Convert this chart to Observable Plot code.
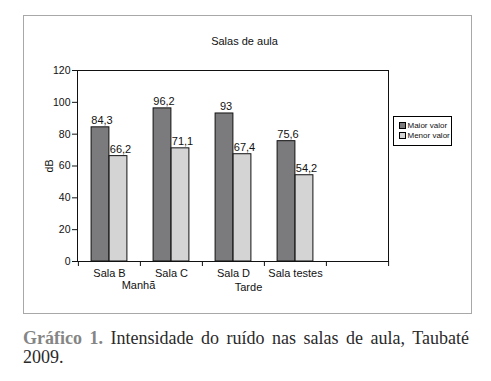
<!DOCTYPE html>
<html>
<head>
<meta charset="utf-8">
<script src="https://cdn.jsdelivr.net/npm/d3@7"></script>
<script src="https://cdn.jsdelivr.net/npm/@observablehq/plot@0.6"></script>
<style>
  html, body { margin: 0; padding: 0; background: #fff; }
  body { width: 491px; height: 381px; position: relative; overflow: hidden; font-family: "Liberation Sans", Arial, sans-serif; }
  #frame { position: absolute; left: 23px; top: 15px; width: 449px; height: 299px; box-sizing: border-box; border: 1px solid #a8a8a8; }
  #title { position: absolute; left: -3px; top: 18px; width: 100%; text-align: center; font-size: 11px; line-height: 14px; color: #111; }
  #chart { position: absolute; left: 0; top: 0; }
  #legend { position: absolute; left: 369px; top: 100px; width: 59px; height: 30px; box-sizing: border-box; border: 1px solid #000; font-size: 8px; line-height: 10px; padding: 3.5px 0 0 5px; color: #111; }
  #legend .it { display: flex; align-items: center; white-space: nowrap; }
  #legend .sw { width: 5px; height: 5px; border: 1px solid #000; margin-right: 1.5px; }
  .cap { position: absolute; left: 23px; width: 446px; font-family: "Liberation Serif", "Times New Roman", serif; font-size: 18px; line-height: 19px; color: #2a2a2a; white-space: nowrap; }
  #cap1 { top: 329px; text-align: justify; text-align-last: justify; }
  #cap2 { top: 348px; }
  #cap1 b { color: #858585; }
</style>
</head>
<body>
<div id="frame">
  <div id="title">Salas de aula</div>
  <div id="chart"></div>
  <div id="legend"></div>
</div>
<div class="cap" id="cap1"><b>Gráfico 1.</b> Intensidade do ruído nas salas de aula, Taubaté</div>
<div class="cap" id="cap2">2009.</div>
<script>
const salas = ["Sala B", "Sala C", "Sala D", "Sala testes"];
const maiorValor = [84.3, 96.2, 93, 75.6];
const menorValor = [66.2, 71.1, 67.4, 54.2];
const series = ["Maior valor", "Menor valor"];
const periodos = [{sala: "Sala B", label: "Manhã"}, {sala: "Sala D", label: "Tarde"}];
const yTicks = [0, 20, 40, 60, 80, 100, 120];
const emptySlot = " ";

const colors = {"Maior valor": "#7b7b7d", "Menor valor": "#d4d4d4"};
const fmt = v => String(v).replace(".", ",");

const maior = salas.map((s, i) => ({sala: s, value: maiorValor[i]}));
const menor = salas.map((s, i) => ({sala: s, value: menorValor[i]}));

const W = 447, H = 297, mL = 53, mR = 83, mT = 54, mB = 52;
const bw = (W - mL - mR) / 5;
const barW = 18;
const off = (bw - 2 * barW) / 2;

const chart = Plot.plot({
  width: W, height: H,
  marginLeft: mL, marginRight: mR, marginTop: mT, marginBottom: mB,
  style: {fontFamily: "Liberation Sans, Arial, sans-serif", background: "transparent", color: "#111"},
  x: {type: "band", domain: [...salas, emptySlot], padding: 0, label: null},
  y: {domain: [0, 120], label: null},
  marks: [
    Plot.barY(maior, {x: "sala", y: "value", fill: colors["Maior valor"], stroke: "#111", strokeWidth: 1, insetLeft: off, insetRight: bw - off - barW}),
    Plot.barY(menor, {x: "sala", y: "value", fill: colors["Menor valor"], stroke: "#111", strokeWidth: 1, insetLeft: off + barW, insetRight: off}),
    Plot.frame({stroke: "#111", strokeWidth: 1}),
    Plot.axisY({ticks: yTicks, tickSize: 5, tickPadding: 2, fontSize: 10.5, label: "dB", labelAnchor: "center", labelArrow: "none", labelOffset: 32, stroke: "#111"}),
    Plot.axisX({tickSize: 0, tickPadding: 8, fontSize: 11, label: null}),
    Plot.axisX({tickSize: 5, tickFormat: () => "", label: null, dx: -bw / 2, stroke: "#111"}),
    Plot.axisX({ticks: [emptySlot], tickSize: 5, tickFormat: () => "", label: null, dx: bw / 2, stroke: "#111"}),
    Plot.text(maior, {x: "sala", y: "value", text: d => fmt(d.value), dx: -barW / 2 - (bw / 2 - off - barW) + 1.5, dy: -3, lineAnchor: "bottom", fontSize: 11, fill: "#111"}),
    Plot.text(menor, {x: "sala", y: "value", text: d => fmt(d.value), dx: barW / 2 + (bw / 2 - off - barW) + 2, dy: -3, lineAnchor: "bottom", fontSize: 11, fill: "#111"}),
    Plot.text(periodos.slice(0, 1), {x: "sala", text: "label", frameAnchor: "bottom", dy: 27, dx: 29, fontSize: 11, fill: "#111"}),
    Plot.text(periodos.slice(1), {x: "sala", text: "label", frameAnchor: "bottom", dy: 29, dx: 15, fontSize: 11, fill: "#111"})
  ]
});
document.getElementById("chart").appendChild(chart);

const legend = document.getElementById("legend");
for (const s of series) {
  const it = document.createElement("div");
  it.className = "it";
  const sw = document.createElement("span");
  sw.className = "sw";
  sw.style.background = colors[s];
  it.appendChild(sw);
  it.appendChild(document.createTextNode(s));
  legend.appendChild(it);
}
</script>
</body>
</html>
